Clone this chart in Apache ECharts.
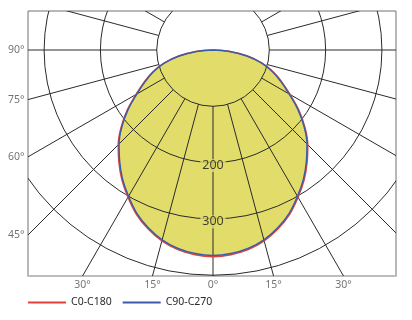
<!DOCTYPE html>
<html><head><meta charset="utf-8">
<script src="https://cdn.jsdelivr.net/npm/echarts@6/dist/echarts.min.js"></script>
<style>html,body{margin:0;padding:0;background:#fff}#c{width:412px;height:320px}</style>
</head><body><div id="c"></div>
<script>
// photometric data (cd/klm) at gamma angles
const angles = [0,5,10,15,20,25,30,35,40,45,50,55,60,65,70,75,80,85,90];
const c0c180 = [367,365,360,351,338,322,302,282,260,238,213,186,158,135,114,90,62,30,0];
const c90c270 = [365,363,358,349,336,320,300,280,258,236,211,184,156,133,112,89,61,30,0];
const seriesNames = ['C0-C180','C90-C270'];
// polar grid
const radiusTicks = [100,200,300,400];
const radiusLabels = [200,300];
const spokeAngles = [0,15,30,45,60,75,90,105,120,135,150,165,180,195,210,225,240,255,270,285,300,315,330,345];
const leftTickAngles = [90,75,60,45];
const bottomTickAngles = [-30,-15,0,15,30];

const FONT = '"Noto Sans", "Open Sans", sans-serif';
const FILL = '#e2dd6b';
const X_MIN = -328.6, X_MAX = 325, Y_MIN = -401.4, Y_MAX = 69.3;
const SMOOTH = 0.4;

function p2xy(theta, r) {
  const t = theta * Math.PI / 180;
  return [r * Math.sin(t), -r * Math.cos(t)];
}
function fullCurve(vals) {
  const pts = [];
  for (let i = angles.length - 1; i >= 0; i--) pts.push(p2xy(-angles[i], vals[i]));
  for (let i = 1; i < angles.length; i++) pts.push(p2xy(angles[i], vals[i]));
  return pts;
}

const leftTickData = leftTickAngles.map(a => ({ value: [X_MIN, X_MIN * Math.cos(a*Math.PI/180) / Math.sin(a*Math.PI/180)], name: a + '°' }));
const bottomTickData = bottomTickAngles.map(a => ({ value: [-Y_MIN * Math.tan(a*Math.PI/180), Y_MIN], name: Math.abs(a) + '°' }));
const hidden = { color: 'rgba(0,0,0,0)' };

const chart = echarts.init(document.getElementById('c'), null, { renderer: 'canvas' });
chart.setOption({
  animation: false,
  textStyle: { fontFamily: FONT },
  grid: { left: 28, right: 16, top: 11, bottom: 44, show: true, borderColor: '#707070', borderWidth: 1, backgroundColor: 'transparent' },
  xAxis: { type: 'value', min: X_MIN, max: X_MAX, axisLine: { show: true, onZero: false, lineStyle: { color: '#bdbdbd', width: 2 } }, axisTick: { show: false }, axisLabel: { show: false }, splitLine: { show: false } },
  yAxis: { type: 'value', min: Y_MIN, max: Y_MAX, axisLine: { show: false }, axisTick: { show: false }, axisLabel: { show: false }, splitLine: { show: false } },
  legend: {
    data: seriesNames, left: 23, top: 292, icon: 'rect', itemWidth: 38, itemHeight: 2, itemGap: 11,
    textStyle: { fontSize: 10.5, color: '#2a2a2a', fontFamily: FONT }
  },
  series: [
    {
      type: 'custom', silent: true, clip: true, z: 1, data: [[0, 0]],
      renderItem: function (params, api) {
        const pts = fullCurve(c0c180).map(p => api.coord(p));
        return { type: 'polygon', shape: { points: pts, smooth: SMOOTH }, style: { fill: FILL, stroke: 'none' } };
      }
    },
    {
      type: 'custom', silent: true, clip: true, z: 2, data: [[0, 0]],
      renderItem: function (params, api) {
        const c = api.coord([0, 0]);
        const children = [];
        radiusTicks.forEach(r => {
          const rp = api.size([r, 0])[0];
          children.push({ type: 'circle', shape: { cx: c[0], cy: c[1], r: rp }, style: { fill: 'none', stroke: '#2a2a2a', lineWidth: 1 } });
        });
        spokeAngles.forEach(a => {
          const p1 = api.coord(p2xy(a, radiusTicks[0]));
          const p2 = api.coord(p2xy(a, 900));
          children.push({ type: 'line', shape: { x1: p1[0], y1: p1[1], x2: p2[0], y2: p2[1] }, style: { stroke: '#2a2a2a', lineWidth: 1 } });
        });
        return { type: 'group', children: children };
      }
    },
    {
      name: seriesNames[0], type: 'line', z: 3, data: fullCurve(c0c180), symbol: 'none', silent: true, smooth: SMOOTH,
      color: '#e4413b', lineStyle: { color: '#e4413b', width: 1.5 }
    },
    {
      name: seriesNames[1], type: 'line', z: 4, data: fullCurve(c90c270), symbol: 'none', silent: true, smooth: SMOOTH,
      color: '#3a5da9', lineStyle: { color: '#3a5da9', width: 1.5 }
    },
    {
      type: 'scatter', z: 5, silent: true, clip: false, symbolSize: 1, itemStyle: hidden,
      data: radiusLabels.map(r => ({ value: [0, -r], name: String(r) })),
      label: { show: true, position: 'inside', offset: [0, 3], formatter: '{b}', fontSize: 12.5, color: '#161616', backgroundColor: FILL, padding: [0, 2], fontFamily: FONT }
    },
    {
      type: 'scatter', z: 5, silent: true, clip: false, symbolSize: 1, itemStyle: hidden,
      data: leftTickData,
      label: { show: true, position: 'left', distance: 3, formatter: '{b}', fontSize: 10.5, color: '#505050', fontFamily: FONT }
    },
    {
      type: 'scatter', z: 5, silent: true, clip: false, symbolSize: 1, itemStyle: hidden,
      data: bottomTickData,
      label: { show: true, position: 'bottom', distance: 3, formatter: '{b}', fontSize: 10.5, color: '#505050', fontFamily: FONT }
    }
  ]
});
</script>
</body></html>
